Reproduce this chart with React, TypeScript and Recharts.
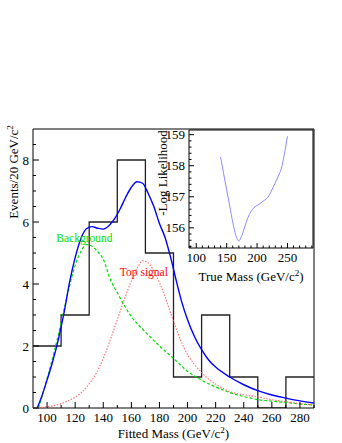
import { ComposedChart, LineChart, Line, XAxis, YAxis, ReferenceArea, ReferenceDot, CartesianGrid } from 'recharts';

// histogram: events per 20 GeV bin
const binEdges = [90, 110, 130, 150, 170, 190, 210, 230, 250, 270];
const binCounts = [2, 3, 6, 8, 5, 1, 3, 1, 0, 1];

// total fit (blue)
const fitMass = [93, 96, 100, 104, 108, 112, 116, 120, 124, 128, 132, 136, 140, 144, 148, 152, 156, 160, 164, 168, 172, 176, 180, 184, 188, 192, 196, 200, 205, 210, 215, 220, 230, 240, 250, 260, 270, 280, 290];
const fitTotal = [0, 0.35, 0.9, 1.5, 2.2, 3.05, 4.05, 4.85, 5.45, 5.78, 5.85, 5.8, 5.77, 5.88, 6.1, 6.42, 6.8, 7.12, 7.3, 7.25, 6.92, 6.5, 5.95, 5.5, 4.85, 4.1, 3.4, 2.85, 2.3, 1.88, 1.55, 1.32, 1.0, 0.75, 0.56, 0.42, 0.32, 0.23, 0.16];

// background (green)
const bgMass = [94, 100, 105, 110, 115, 120, 125, 128, 132, 136, 140, 145, 150, 155, 160, 170, 180, 190, 200, 210, 220, 230, 240, 250, 260, 270, 280, 290];
const bgFit = [0, 0.95, 1.8, 2.75, 3.75, 4.6, 5.12, 5.27, 5.22, 5.05, 4.8, 4.15, 3.72, 3.3, 2.95, 2.45, 2.0, 1.6, 1.18, 0.9, 0.68, 0.5, 0.37, 0.27, 0.22, 0.18, 0.13, 0.1];

// top signal (red)
const sigMass = [90, 100, 110, 120, 125, 130, 135, 140, 145, 150, 155, 160, 165, 168, 172, 176, 180, 185, 190, 195, 200, 205, 210, 215, 220, 230, 240, 250, 260, 270, 280, 290];
const sigFit = [0, 0.04, 0.14, 0.35, 0.52, 0.78, 1.12, 1.6, 2.2, 2.85, 3.5, 4.1, 4.58, 4.75, 4.68, 4.42, 4.05, 3.45, 2.8, 2.2, 1.72, 1.4, 1.15, 0.93, 0.77, 0.53, 0.43, 0.36, 0.27, 0.2, 0.14, 0.1];

// inset: -log likelihood vs true mass
const trueMass = [140, 145, 150, 155, 160, 165, 170, 175, 180, 185, 190, 195, 200, 205, 210, 215, 220, 225, 230, 235, 240, 245, 250];
const logLik = [158.28, 157.74, 157.22, 156.7, 156.18, 155.76, 155.58, 155.76, 156.05, 156.33, 156.52, 156.65, 156.72, 156.78, 156.86, 156.93, 157.05, 157.25, 157.45, 157.67, 157.92, 158.38, 158.95];

const mainXTicks = Array.from({ length: 20 }, (_, i) => 100 + i * 10);
const mainYTicks = Array.from({ length: 18 }, (_, i) => i * 0.5);
const insetXTicks = Array.from({ length: 21 }, (_, i) => 90 + i * 10);
const insetYTicks = Array.from({ length: 19 }, (_, i) => Math.round((155.4 + i * 0.2) * 10) / 10);

const histData = [...binEdges, 290].map((x, i) => ({ x, y: binCounts[Math.min(i, binCounts.length - 1)] }));
const fitData = fitMass.map((x, i) => ({ x, y: fitTotal[i] }));
const bgData = bgMass.map((x, i) => ({ x, y: bgFit[i] }));
const sigData = sigMass.map((x, i) => ({ x, y: sigFit[i] }));
const llData = trueMass.map((x, i) => ({ x, y: logLik[i] }));

const font = '"Liberation Serif", "DejaVu Serif", serif';

const isMajor = (v: number, every: number) => Math.abs(v / every - Math.round(v / every)) < 1e-6;

function BottomTick({ x, y, payload, every, len }: any) {
    const v = payload.value;
    const major = isMajor(v, every);
    return (
        <g>
            <line x1={x} x2={x} y1={y} y2={y - (major ? len : len / 2)} stroke="#000" />
            {major && (
                <text x={x} y={y + 14} textAnchor="middle" fontSize={13} fontFamily={font} fill="#000">
                    {v}
                </text>
            )}
        </g>
    );
}

function LeftTick({ x, y, payload, every, len }: any) {
    const v = payload.value;
    const major = isMajor(v, every);
    return (
        <g>
            <line x1={x} x2={x + (major ? len : len / 2)} y1={y} y2={y} stroke="#000" />
            {major && (
                <text x={x - 4} y={y} dy="0.35em" textAnchor="end" fontSize={13} fontFamily={font} fill="#000">
                    {v}
                </text>
            )}
        </g>
    );
}

function XTitle({ viewBox, text, dy }: any) {
    const vb = viewBox ?? { x: 0, y: 0, width: 0 };
    return (
        <text x={vb.x + vb.width / 2} y={vb.y + dy} textAnchor="middle" fontSize={13} fontFamily={font} fill="#000">
            {text}(GeV/c<tspan dy={-5} fontSize={9}>2</tspan>
            <tspan dy={5}>)</tspan>
        </text>
    );
}

function YTitle({ viewBox, cx, cy, children }: any) {
    const vb = viewBox ?? { x: 0, y: 0 };
    const px = vb.x + cx;
    const py = vb.y + cy;
    return (
        <text x={px} y={py} dy="0.35em" transform={`rotate(-90, ${px}, ${py})`} textAnchor="middle" fontSize={13} fontFamily={font} fill="#000">
            {children}
        </text>
    );
}

export default function App() {
    return (
        <div style={{ position: 'absolute', left: 0, top: 0, width: 342, height: 443, background: '#fff', fontFamily: font }}>
            <div style={{ position: 'absolute', left: 0, top: 0 }}>
                <ComposedChart width={342} height={443} margin={{ top: 129, right: 28, bottom: 0, left: 0 }}>
                    <XAxis
                        dataKey="x"
                        type="number"
                        domain={[90, 290]}
                        allowDataOverflow
                        ticks={mainXTicks}
                        interval={0}
                        tickSize={0}
                        tickMargin={0}
                        tickLine={false}
                        axisLine={false}
                        height={35}
                        tick={(p: any) => <BottomTick {...p} every={20} len={6} />}
                        label={<XTitle text="Fitted Mass " dy={30} />}
                    />
                    <YAxis
                        dataKey="y"
                        type="number"
                        domain={[0, 9]}
                        allowDataOverflow
                        ticks={mainYTicks}
                        interval={0}
                        tickSize={0}
                        tickMargin={0}
                        tickLine={false}
                        axisLine={false}
                        width={33}
                        tick={(p: any) => <LeftTick {...p} every={2} len={6} />}
                        label={
                            <YTitle cx={13} cy={43}>
                                Events/20 GeV/c<tspan dy={-5} fontSize={9}>2</tspan>
                            </YTitle>
                        }
                    />
                    <ReferenceArea x1={90} x2={290} y1={0} y2={9} fill="none" stroke="#000" strokeWidth={1} />
                    <Line data={histData} dataKey="y" type="stepAfter" stroke="#222" strokeWidth={1.3} dot={false} isAnimationActive={false} />
                    <Line data={bgData} dataKey="y" type="monotone" stroke="#00dd00" strokeWidth={1.2} strokeDasharray="3 2" dot={false} isAnimationActive={false} />
                    <Line data={sigData} dataKey="y" type="monotone" stroke="#ff6a6a" strokeWidth={1.1} strokeDasharray="1.5 1.5" dot={false} isAnimationActive={false} />
                    <Line data={fitData} dataKey="y" type="monotone" stroke="#0000ff" strokeWidth={1.4} dot={false} isAnimationActive={false} />
                    <ReferenceDot x={126.6} y={5.48} r={0} label={{ value: 'Background', position: 'center', fill: '#00e000', fontSize: 11.5, fontFamily: font }} />
                    <ReferenceDot x={168.9} y={4.39} r={0} label={{ value: 'Top signal', position: 'center', fill: '#ff0000', fontSize: 11.5, fontFamily: font }} />
                </ComposedChart>
            </div>
            <div style={{ position: 'absolute', left: 140, top: 125 }}>
                <LineChart width={180} height={170} margin={{ top: 5, right: 7, bottom: 0, left: 0 }} data={llData}>
                    <CartesianGrid fill="#fff" horizontal={false} vertical={false} />
                    <XAxis
                        dataKey="x"
                        type="number"
                        domain={[88, 292]}
                        allowDataOverflow
                        ticks={insetXTicks}
                        interval={0}
                        tickSize={0}
                        tickMargin={0}
                        tickLine={false}
                        axisLine={false}
                        height={47}
                        tick={(p: any) => <BottomTick {...p} every={50} len={5} />}
                        label={<XTitle text="True Mass " dy={33} />}
                    />
                    <YAxis
                        type="number"
                        domain={[155.35, 159.15]}
                        allowDataOverflow
                        ticks={insetYTicks}
                        interval={0}
                        tickSize={0}
                        tickMargin={0}
                        tickLine={false}
                        axisLine={false}
                        width={49}
                        tick={(p: any) => <LeftTick {...p} every={1} len={5} />}
                        label={<YTitle cx={22} cy={43}>-Log Likelihood</YTitle>}
                    />
                    <ReferenceArea x1={88} x2={292} y1={155.35} y2={159.15} fill="none" stroke="#000" strokeWidth={1} />
                    <Line dataKey="y" type="monotone" stroke="#8c8cff" strokeWidth={1} dot={false} isAnimationActive={false} />
                </LineChart>
            </div>
        </div>
    );
}
